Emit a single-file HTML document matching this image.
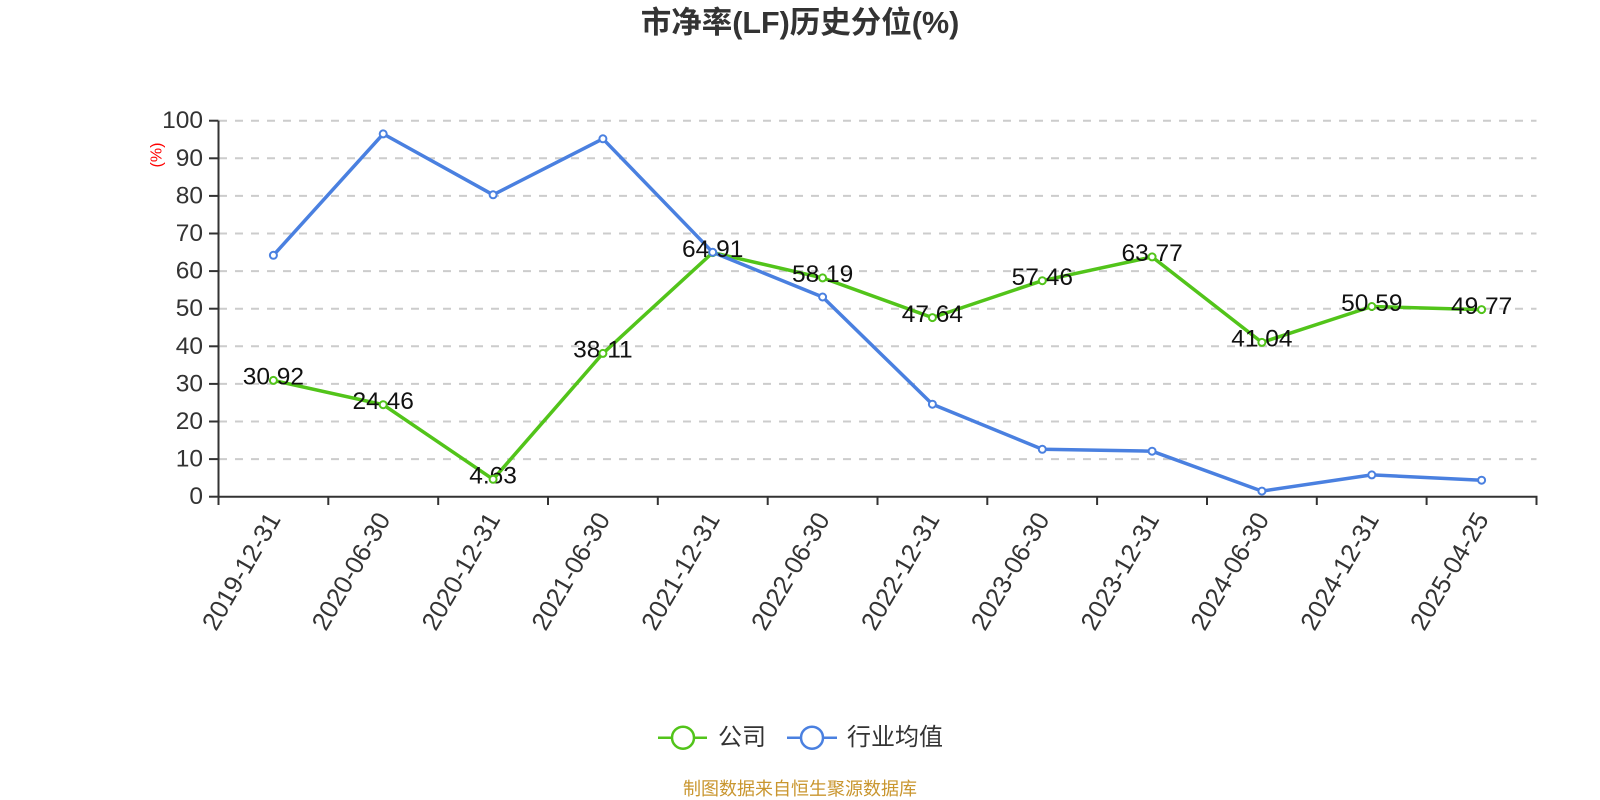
<!DOCTYPE html>
<html><head><meta charset="utf-8"><style>
html,body{margin:0;padding:0;background:#fff;}
svg{display:block;}
text{font-family:"Liberation Sans","Noto Sans CJK SC",sans-serif;}
</style></head><body>
<svg width="1600" height="800" viewBox="0 0 1600 800" xmlns="http://www.w3.org/2000/svg">
<rect width="1600" height="800" fill="#fff"/>
<text x="800" y="33" text-anchor="middle" font-size="30.5" font-weight="bold" fill="#333">市净率(LF)历史分位(%)</text>

<g stroke="#ccc" stroke-width="2" stroke-dasharray="8,8">
<line x1="219" y1="120.7" x2="1536.5" y2="120.7"/>
<line x1="219" y1="158.3" x2="1536.5" y2="158.3"/>
<line x1="219" y1="195.9" x2="1536.5" y2="195.9"/>
<line x1="219" y1="233.5" x2="1536.5" y2="233.5"/>
<line x1="219" y1="271.1" x2="1536.5" y2="271.1"/>
<line x1="219" y1="308.7" x2="1536.5" y2="308.7"/>
<line x1="219" y1="346.3" x2="1536.5" y2="346.3"/>
<line x1="219" y1="383.9" x2="1536.5" y2="383.9"/>
<line x1="219" y1="421.5" x2="1536.5" y2="421.5"/>
<line x1="219" y1="459.1" x2="1536.5" y2="459.1"/>
</g>

<g stroke="#333" stroke-width="2" fill="none">
<line x1="218.5" y1="120.7" x2="218.5" y2="496.7"/>
<line x1="217.5" y1="496.7" x2="1537.5" y2="496.7"/>
<line x1="209" y1="120.7" x2="218.5" y2="120.7"/>
<line x1="209" y1="158.3" x2="218.5" y2="158.3"/>
<line x1="209" y1="195.9" x2="218.5" y2="195.9"/>
<line x1="209" y1="233.5" x2="218.5" y2="233.5"/>
<line x1="209" y1="271.1" x2="218.5" y2="271.1"/>
<line x1="209" y1="308.7" x2="218.5" y2="308.7"/>
<line x1="209" y1="346.3" x2="218.5" y2="346.3"/>
<line x1="209" y1="383.9" x2="218.5" y2="383.9"/>
<line x1="209" y1="421.5" x2="218.5" y2="421.5"/>
<line x1="209" y1="459.1" x2="218.5" y2="459.1"/>
<line x1="209" y1="496.7" x2="218.5" y2="496.7"/>
<line x1="218.5" y1="496.7" x2="218.5" y2="505"/>
<line x1="328.3" y1="496.7" x2="328.3" y2="505"/>
<line x1="438.2" y1="496.7" x2="438.2" y2="505"/>
<line x1="548" y1="496.7" x2="548" y2="505"/>
<line x1="657.8" y1="496.7" x2="657.8" y2="505"/>
<line x1="767.7" y1="496.7" x2="767.7" y2="505"/>
<line x1="877.5" y1="496.7" x2="877.5" y2="505"/>
<line x1="987.3" y1="496.7" x2="987.3" y2="505"/>
<line x1="1097.1" y1="496.7" x2="1097.1" y2="505"/>
<line x1="1207" y1="496.7" x2="1207" y2="505"/>
<line x1="1316.8" y1="496.7" x2="1316.8" y2="505"/>
<line x1="1426.6" y1="496.7" x2="1426.6" y2="505"/>
<line x1="1536.5" y1="496.7" x2="1536.5" y2="505"/>
</g>

<g font-size="24.5" fill="#333" text-anchor="end" dominant-baseline="central">
<text x="203" y="120.7">100</text>
<text x="203" y="158.3">90</text>
<text x="203" y="195.9">80</text>
<text x="203" y="233.5">70</text>
<text x="203" y="271.1">60</text>
<text x="203" y="308.7">50</text>
<text x="203" y="346.3">40</text>
<text x="203" y="383.9">30</text>
<text x="203" y="421.5">20</text>
<text x="203" y="459.1">10</text>
<text x="203" y="496.7">0</text>
</g>
<text transform="translate(157,155) rotate(-90)" text-anchor="middle" dominant-baseline="central" font-size="16" fill="#f00">(%)</text>

<g font-size="25.5" fill="#333" text-anchor="end" dominant-baseline="central">
<text transform="translate(274.4,515) rotate(-60)">2019-12-31</text>
<text transform="translate(384.2,515) rotate(-60)">2020-06-30</text>
<text transform="translate(494.1,515) rotate(-60)">2020-12-31</text>
<text transform="translate(603.9,515) rotate(-60)">2021-06-30</text>
<text transform="translate(713.7,515) rotate(-60)">2021-12-31</text>
<text transform="translate(823.6,515) rotate(-60)">2022-06-30</text>
<text transform="translate(933.4,515) rotate(-60)">2022-12-31</text>
<text transform="translate(1043.3,515) rotate(-60)">2023-06-30</text>
<text transform="translate(1153.1,515) rotate(-60)">2023-12-31</text>
<text transform="translate(1262.9,515) rotate(-60)">2024-06-30</text>
<text transform="translate(1372.8,515) rotate(-60)">2024-12-31</text>
<text transform="translate(1482.6,515) rotate(-60)">2025-04-25</text>
</g>

<polyline fill="none" stroke="#52c41a" stroke-width="3.5" stroke-linejoin="round" points="273.4,380.4 383.2,404.7 493.1,479.3 602.9,353.4 712.7,252.6 822.6,277.9 932.4,317.6 1042.3,280.7 1152.1,256.9 1261.9,342.4 1371.8,306.5 1481.6,309.6"/>
<polyline fill="none" stroke="#4a80e0" stroke-width="3.5" stroke-linejoin="round" points="273.4,255.3 383.2,133.9 493.1,194.8 602.9,138.8 712.7,252.3 822.6,297.0 932.4,404.2 1042.3,449.3 1152.1,451.2 1261.9,491.1 1371.8,474.9 1481.6,480.2"/>

<g font-size="24.5" fill="#111" text-anchor="middle" dominant-baseline="central">
<text x="273.4" y="377">30.92</text>
<text x="383.2" y="401.5">24.46</text>
<text x="493.1" y="476">4.63</text>
<text x="602.9" y="350.2">38.11</text>
<text x="712.7" y="249.4">64.91</text>
<text x="822.6" y="274.7">58.19</text>
<text x="932.4" y="314.4">47.64</text>
<text x="1042.3" y="277.5">57.46</text>
<text x="1152.1" y="253.7">63.77</text>
<text x="1261.9" y="339.2">41.04</text>
<text x="1371.8" y="303.3">50.59</text>
<text x="1481.6" y="306.4">49.77</text>
</g>

<g fill="#fff" stroke="#52c41a" stroke-width="2">
<circle cx="273.4" cy="380.4" r="3.5"/>
<circle cx="383.2" cy="404.7" r="3.5"/>
<circle cx="493.1" cy="479.3" r="3.5"/>
<circle cx="602.9" cy="353.4" r="3.5"/>
<circle cx="712.7" cy="252.6" r="3.5"/>
<circle cx="822.6" cy="277.9" r="3.5"/>
<circle cx="932.4" cy="317.6" r="3.5"/>
<circle cx="1042.3" cy="280.7" r="3.5"/>
<circle cx="1152.1" cy="256.9" r="3.5"/>
<circle cx="1261.9" cy="342.4" r="3.5"/>
<circle cx="1371.8" cy="306.5" r="3.5"/>
<circle cx="1481.6" cy="309.6" r="3.5"/>
</g>
<g fill="#fff" stroke="#4a80e0" stroke-width="2">
<circle cx="273.4" cy="255.3" r="3.5"/>
<circle cx="383.2" cy="133.9" r="3.5"/>
<circle cx="493.1" cy="194.8" r="3.5"/>
<circle cx="602.9" cy="138.8" r="3.5"/>
<circle cx="712.7" cy="252.3" r="3.5"/>
<circle cx="822.6" cy="297.0" r="3.5"/>
<circle cx="932.4" cy="404.2" r="3.5"/>
<circle cx="1042.3" cy="449.3" r="3.5"/>
<circle cx="1152.1" cy="451.2" r="3.5"/>
<circle cx="1261.9" cy="491.1" r="3.5"/>
<circle cx="1371.8" cy="474.9" r="3.5"/>
<circle cx="1481.6" cy="480.2" r="3.5"/>
</g>

<line x1="658" y1="737.7" x2="707" y2="737.7" stroke="#52c41a" stroke-width="2.5"/>
<circle cx="683" cy="737.7" r="11" fill="#fff" stroke="#52c41a" stroke-width="2.5"/>
<text x="718" y="737.7" font-size="24" fill="#333" dominant-baseline="central">公司</text>
<line x1="787" y1="737.7" x2="837" y2="737.7" stroke="#4a80e0" stroke-width="2.5"/>
<circle cx="812" cy="737.7" r="11" fill="#fff" stroke="#4a80e0" stroke-width="2.5"/>
<text x="847" y="737.7" font-size="24" fill="#333" dominant-baseline="central">行业均值</text>

<text x="800" y="789" font-size="18" fill="#c9962f" text-anchor="middle" dominant-baseline="central">制图数据来自恒生聚源数据库</text>
</svg>
</body></html>
